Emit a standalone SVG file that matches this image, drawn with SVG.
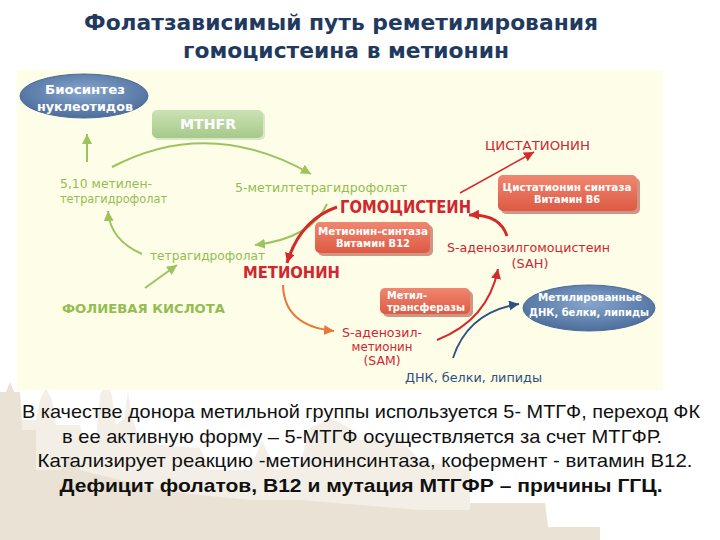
<svg xmlns="http://www.w3.org/2000/svg" width="720" height="540" viewBox="0 0 720 540">
<defs>
<style>
.lbl{font-family:"DejaVu Sans","Verdana",sans-serif;}
.g{fill:#93BD50;font-size:12.5px;}
.r{fill:#D0262F;}
.w{fill:#FFFFFF;font-weight:bold;}
.tt{font-family:"DejaVu Sans","Liberation Sans",sans-serif;font-weight:bold;fill:#1F3A5E;font-size:21px;}
.bt{font-family:"Liberation Sans","Arial",sans-serif;fill:#111111;font-size:19px;}
.ga{fill:none;stroke:#9CC45E;stroke-width:2;}
.ra{fill:none;stroke:#D42A2A;}
</style>
<marker id="mg" markerUnits="userSpaceOnUse" markerWidth="12" markerHeight="12" refX="10" refY="5" orient="auto"><path d="M0,0 L10,5 L0,10 Z" fill="#9CC45E"/></marker>
<marker id="mr" markerUnits="userSpaceOnUse" markerWidth="12" markerHeight="12" refX="10" refY="5" orient="auto"><path d="M0,0 L10,5 L0,10 Z" fill="#D42A2A"/></marker>
<marker id="mo" markerUnits="userSpaceOnUse" markerWidth="12" markerHeight="12" refX="10" refY="5" orient="auto"><path d="M0,0 L10,5 L0,10 Z" fill="#E8773A"/></marker>
<marker id="mb" markerUnits="userSpaceOnUse" markerWidth="12" markerHeight="12" refX="10" refY="5" orient="auto"><path d="M0,0 L10,5 L0,10 Z" fill="#2F5183"/></marker>
<radialGradient id="blue" cx="50%" cy="40%" r="60%"><stop offset="0" stop-color="#86A6CE"/><stop offset="1" stop-color="#4D6E9C"/></radialGradient>
<linearGradient id="green" x1="0" y1="0" x2="0" y2="1"><stop offset="0" stop-color="#CBE2B3"/><stop offset="1" stop-color="#A6C98A"/></linearGradient>
<linearGradient id="sal" x1="0" y1="0" x2="0" y2="1"><stop offset="0" stop-color="#F08770"/><stop offset="1" stop-color="#DD5A44"/></linearGradient>
</defs>
<rect width="720" height="540" fill="#FFFFFF"/>
<g id="skyline">
<path d="M0,540 L0,392 L6,392 L10,382 L14,392 L20,392 L22,420 L36,420 L40,400 L46,388 L52,400 L56,425 L80,425 L84,440 L96,440 L100,396 L106,380 L112,396 L116,425 L124,418 L128,392 L132,418 L140,440 L160,445 L200,448 L210,470 L250,470 L262,440 L275,470 L300,465 L310,428 L330,418 L350,428 L360,440 L400,440 L420,460 L470,470 L470,503 L545,503 L548,527 L600,527 L600,540 Z" fill="#F3EFE7"/>
<path d="M0,540 L0,392 L6,392 L10,382 L14,392 L20,392 L22,430 L36,430 L36,470 L60,470 L70,455 L80,470 L120,480 L160,490 L200,495 L250,500 L300,500 L360,505 L420,510 L470,510 L470,503 L545,503 L548,527 L600,527 L600,540 Z" fill="#E9E2D5"/>
</g>
<rect x="17" y="70" width="646" height="320" fill="#FEFDE8"/>
<g id="title">
<text class="tt" x="341" y="30" text-anchor="middle" textLength="514" lengthAdjust="spacingAndGlyphs">Фолатзависимый путь реметилирования</text>
<text class="tt" x="346" y="58" text-anchor="middle" textLength="326" lengthAdjust="spacingAndGlyphs">гомоцистеина в метионин</text>
</g>
<g id="connectors">
<line x1="87" y1="162" x2="87" y2="134" class="ga" marker-end="url(#mg)"/>
<path d="M112,167 Q209,116 311,174" class="ga" marker-end="url(#mg)"/>
<path d="M327,204 Q312,238 255,245" class="ga" marker-end="url(#mg)"/>
<path d="M142,254 Q110,240 108,211" class="ga" marker-end="url(#mg)"/>
<line x1="145" y1="288" x2="177" y2="265" class="ga" marker-end="url(#mg)"/>
<line x1="460" y1="193" x2="534" y2="152" class="ra" stroke-width="1.5" marker-end="url(#mr)"/>
<path d="M337,207 Q300,220 287,263" class="ra" stroke-width="3" marker-end="url(#mr)"/>
<path d="M283,285 Q284,326 334,331" fill="none" stroke="#E8773A" stroke-width="2" marker-end="url(#mo)"/>
<path d="M437,340 Q488,320 498,269" class="ra" stroke-width="2" marker-end="url(#mr)"/>
<path d="M507,236 Q500,214 469,215" class="ra" stroke-width="3" marker-end="url(#mr)"/>
<path d="M453,358 Q468,312 519,304" fill="none" stroke="#2F5183" stroke-width="1.8" marker-end="url(#mb)"/>
</g>
<g id="biosynthesis">
<ellipse cx="84" cy="96" rx="64" ry="22" fill="url(#blue)" stroke="#4A6A96" stroke-width="1"/>
<text class="lbl w" x="85" y="94" font-size="13" text-anchor="middle" textLength="80" lengthAdjust="spacingAndGlyphs">Биосинтез</text>
<text class="lbl w" x="85" y="111" font-size="13" text-anchor="middle" textLength="96" lengthAdjust="spacingAndGlyphs">нуклеотидов</text>
</g>
<g id="mthfr">
<rect x="154" y="112" width="111" height="28" rx="5" fill="#D9E6C8"/>
<rect x="152" y="110" width="111" height="28" rx="5" fill="url(#green)"/>
<text class="lbl w" x="208" y="129" font-size="14" text-anchor="middle" textLength="56" lengthAdjust="spacingAndGlyphs">MTHFR</text>
</g>
<g id="methylene-thf">
<text class="lbl g" x="60" y="188" textLength="92" lengthAdjust="spacingAndGlyphs">5,10 метилен-</text>
<text class="lbl g" x="60" y="203" textLength="107" lengthAdjust="spacingAndGlyphs">тетрагидрофолат</text>
</g>
<g id="methyl-thf">
<text class="lbl g" x="235" y="192" textLength="172" lengthAdjust="spacingAndGlyphs">5-метилтетрагидрофолат</text>
</g>
<g id="thf">
<text class="lbl g" x="150" y="260" textLength="115" lengthAdjust="spacingAndGlyphs">тетрагидрофолат</text>
</g>
<g id="folic-acid">
<text class="lbl g" x="62" y="313" font-weight="bold" textLength="163" lengthAdjust="spacingAndGlyphs">ФОЛИЕВАЯ КИСЛОТА</text>
</g>
<g id="homocysteine">
<text class="lbl r" x="340" y="213" font-size="17.5" font-weight="bold" textLength="131" lengthAdjust="spacingAndGlyphs">ГОМОЦИСТЕИН</text>
</g>
<g id="cystathionine">
<text class="lbl r" x="485" y="150" font-size="12.5" textLength="105" lengthAdjust="spacingAndGlyphs">ЦИСТАТИОНИН</text>
</g>
<g id="cbs">
<rect x="501" y="178" width="139" height="36" rx="5" fill="#B0503F" opacity="0.6"/>
<rect x="498" y="175" width="139" height="36" rx="5" fill="url(#sal)"/>
<text class="lbl w" x="567" y="191" font-size="11" text-anchor="middle" textLength="129" lengthAdjust="spacingAndGlyphs">Цистатионин синтаза</text>
<text class="lbl w" x="567" y="203" font-size="11" text-anchor="middle" textLength="66" lengthAdjust="spacingAndGlyphs">Витамин B6</text>
</g>
<g id="ms">
<rect x="318" y="225" width="115" height="31" rx="5" fill="#B0503F" opacity="0.6"/>
<rect x="315" y="222" width="115" height="31" rx="5" fill="url(#sal)"/>
<text class="lbl w" x="373" y="235" font-size="10.5" text-anchor="middle" textLength="110" lengthAdjust="spacingAndGlyphs">Метионин-синтаза</text>
<text class="lbl w" x="373" y="247" font-size="10.5" text-anchor="middle" textLength="74" lengthAdjust="spacingAndGlyphs">Витамин B12</text>
</g>
<g id="methionine">
<text class="lbl r" x="243" y="278" font-size="15" font-weight="bold" textLength="97" lengthAdjust="spacingAndGlyphs">МЕТИОНИН</text>
</g>
<g id="sam">
<text class="lbl r" x="382" y="337" font-size="12.5" text-anchor="middle" textLength="80" lengthAdjust="spacingAndGlyphs">S-аденозил-</text>
<text class="lbl r" x="382" y="351" font-size="12.5" text-anchor="middle" textLength="61" lengthAdjust="spacingAndGlyphs">метионин</text>
<text class="lbl r" x="382" y="365" font-size="12.5" text-anchor="middle" textLength="37" lengthAdjust="spacingAndGlyphs">(SAM)</text>
</g>
<g id="mt">
<rect x="383" y="291" width="90" height="26" rx="5" fill="#B0503F" opacity="0.6"/>
<rect x="380" y="288" width="90" height="26" rx="5" fill="url(#sal)"/>
<text class="lbl w" x="387" y="299" font-size="10.5" textLength="40" lengthAdjust="spacingAndGlyphs">Метил-</text>
<text class="lbl w" x="387" y="311" font-size="10.5" textLength="78" lengthAdjust="spacingAndGlyphs">трансферазы</text>
</g>
<g id="sah">
<text class="lbl r" x="447" y="252" font-size="12.5" textLength="163" lengthAdjust="spacingAndGlyphs">S-аденозилгомоцистеин</text>
<text class="lbl r" x="530" y="268" font-size="12.5" text-anchor="middle" textLength="37" lengthAdjust="spacingAndGlyphs">(SAH)</text>
</g>
<g id="methylated">
<ellipse cx="589" cy="308" rx="66" ry="23" fill="url(#blue)" stroke="#4A6A96" stroke-width="1"/>
<text class="lbl w" x="590" y="301" font-size="10.5" text-anchor="middle" textLength="104" lengthAdjust="spacingAndGlyphs">Метилированные</text>
<text class="lbl w" x="589" y="316" font-size="10.5" text-anchor="middle" textLength="120" lengthAdjust="spacingAndGlyphs">ДНК, белки, липиды</text>
</g>
<g id="dna">
<text class="lbl" x="405" y="382" font-size="12.5" fill="#2F4F80" textLength="137" lengthAdjust="spacingAndGlyphs">ДНК, белки, липиды</text>
</g>
<g id="caption">
<text class="bt" x="361" y="418" text-anchor="middle" textLength="678" lengthAdjust="spacingAndGlyphs">В качестве донора метильной группы используется 5- МТГФ, переход ФК</text>
<text class="bt" x="362" y="443" text-anchor="middle" textLength="600" lengthAdjust="spacingAndGlyphs">в ее активную форму – 5-МТГФ осуществляется за счет  МТГФР.</text>
<text class="bt" x="365" y="467" text-anchor="middle" textLength="655" lengthAdjust="spacingAndGlyphs">Катализирует реакцию -метионинсинтаза,  кофермент - витамин В12.</text>
<text class="bt" x="361" y="492" text-anchor="middle" font-weight="bold" textLength="603" lengthAdjust="spacingAndGlyphs">Дефицит фолатов, В12 и мутация  МТГФР – причины ГГЦ.</text>
</g>
</svg>
